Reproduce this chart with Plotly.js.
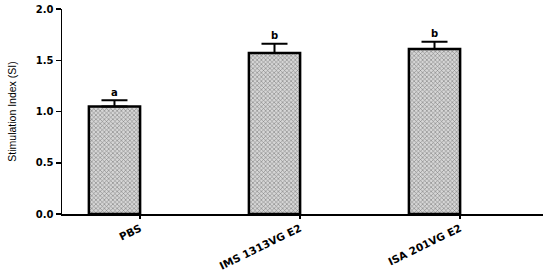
<!DOCTYPE html>
<html>
<head>
<meta charset="utf-8">
<script src="https://cdn.plot.ly/plotly-3.0.1.min.js"></script>
<style>
  html, body { margin: 0; padding: 0; background: #fff; }
  #plot { width: 550px; height: 273px; }
</style>
</head>
<body>
<div id="plot"></div>
<script>
// groups and stimulation index values
const groups = ['PBS', 'IMS 1313VG E2', 'ISA 201VG E2'];
const siMean = [1.05, 1.57, 1.61];
const siErr = [0.06, 0.09, 0.07];
const sigLetters = ['a', 'b', 'b'];

const xPos = groups.map((g, i) => i);
const barWidth = 0.32;

const barTrace = {
  type: 'bar',
  x: xPos,
  y: siMean,
  width: barWidth,
  marker: {
    color: '#ffffff',
    line: { color: '#000', width: 2.5 },
    pattern: { shape: 'x', size: 3, solidity: 0.35, fgcolor: '#808080', bgcolor: '#d6d6d6' }
  },
  error_y: {
    type: 'data',
    symmetric: false,
    array: siErr,
    arrayminus: siErr.map(() => 0),
    color: '#000',
    thickness: 2,
    width: 13
  },
  hoverinfo: 'y'
};

// letters above the error caps
const annotations = groups.map((g, i) => ({
  x: xPos[i],
  y: siMean[i] + siErr[i],
  yshift: 8,
  text: sigLetters[i],
  showarrow: false,
  font: { family: 'DejaVu Sans', size: 10, color: '#000', weight: 'bold' }
}));

const layout = {
  width: 550,
  height: 273,
  margin: { l: 62, r: 7, t: 9, b: 59 },
  paper_bgcolor: '#fff',
  plot_bgcolor: '#fff',
  showlegend: false,
  bargap: 0,
  xaxis: {
    range: [-0.328, 2.678],
    tickvals: xPos.map(v => v + barWidth / 2),
    ticktext: groups,
    tickangle: -26,
    ticks: 'outside',
    ticklen: 3,
    tickwidth: 1.5,
    tickcolor: '#000',
    showline: true,
    linecolor: '#000',
    linewidth: 1.5,
    showgrid: false,
    zeroline: false,
    fixedrange: true,
    tickfont: { family: 'DejaVu Sans', size: 10.5, color: '#000', weight: 'bold' }
  },
  yaxis: {
    range: [0, 2.0],
    tickvals: [0, 0.5, 1.0, 1.5, 2.0],
    ticktext: ['0.0', '0.5', '1.0', '1.5', '2.0'],
    ticks: 'outside',
    ticklen: 5,
    tickwidth: 1.5,
    tickcolor: '#000',
    showline: true,
    linecolor: '#000',
    linewidth: 1.5,
    showgrid: false,
    zeroline: false,
    fixedrange: true,
    tickfont: { family: 'DejaVu Sans', size: 10, color: '#000', weight: 'bold' },
    title: {
      text: 'Stimulation Index (SI)',
      standoff: 17,
      font: { family: 'Liberation Sans', size: 10.5, color: '#000' }
    }
  },
  annotations: annotations
};

Plotly.newPlot('plot', [barTrace], layout, { displayModeBar: false, staticPlot: true });
</script>
</body>
</html>
